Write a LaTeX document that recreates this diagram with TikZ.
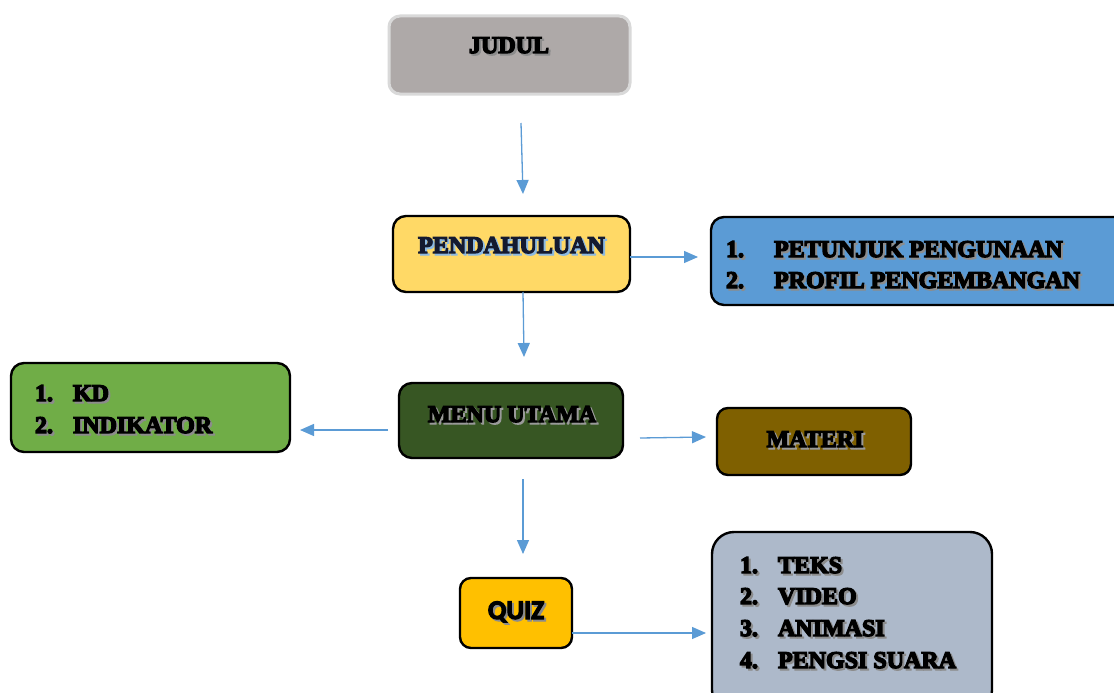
\documentclass[tikz,border=0pt]{standalone}
\usepackage{fontspec}
\usetikzlibrary{arrows.meta}
\newfontfamily\hv{Liberation Serif Bold}[FakeBold=5.5]
\newfontfamily\qf{Carlito Bold}[FakeBold=4]
\definecolor{cjudul}{HTML}{AEA9A8}
\definecolor{cjudulb}{HTML}{D9D9D9}
\definecolor{cpend}{HTML}{FFD966}
\definecolor{cblue}{HTML}{5B9BD5}
\definecolor{ckd}{HTML}{70AD47}
\definecolor{cmenu}{HTML}{375623}
\definecolor{cmat}{HTML}{7F6000}
\definecolor{cquiz}{HTML}{FFC000}
\definecolor{clist}{HTML}{ADB9CA}
\definecolor{carrow}{HTML}{5B9BD5}
\definecolor{cnavy}{HTML}{141A30}
\newcommand\shtx[3]{\leavevmode\rlap{\kern2pt\raisebox{-2pt}{\textcolor{#1}{#3}}}\textcolor{#2}{#3}}
\tikzset{
  box/.style={draw=black, line width=2.4pt, rounded corners=13pt, anchor=north west, inner sep=0pt, outer sep=0pt},
  txt/.style={inner sep=0pt, outer sep=0pt, font=\hv\fontsize{24}{24}\selectfont},
  conn/.style={draw=carrow, line width=1.3pt, -{Triangle[length=14pt,width=12pt]}},
}
\begin{document}
\begin{tikzpicture}[x=1pt,y=-1pt]
\clip (0,0) rectangle (1114,693);
\fill[white] (0,0) rectangle (1114,693);
% boxes
\node[box, draw=cjudulb, line width=3pt, rounded corners=11pt, fill=cjudul, minimum width=241pt, minimum height=78pt] (judul) at (389,16) {};
\node[box, fill=cpend, minimum width=237pt, minimum height=76pt] (pend) at (393,216) {};
\node[box, fill=cblue, minimum width=420pt, minimum height=88pt] (petunjuk) at (711,217) {};
\node[box, fill=ckd, minimum width=279pt, minimum height=89pt] (kd) at (11,363) {};
\node[box, fill=cmenu, minimum width=224pt, minimum height=75pt] (menu) at (399,383) {};
\node[box, fill=cmat, minimum width=194pt, minimum height=67pt, rounded corners=11pt] (materi) at (717,408) {};
\node[box, fill=cquiz, minimum width=112pt, minimum height=70pt, rounded corners=11pt] (quiz) at (460,578) {};
\node[box, fill=clist, minimum width=280pt, minimum height=180pt, rounded corners=22pt] (media) at (712,532) {};
% texts
\node[txt, anchor=base] (tjudul) at (509,53) {\shtx{black!45}{black}{JUDUL}};
\node[txt, anchor=base] (tpend) at (511.5,253) {\shtx{cblue!70}{cnavy}{PENDAHULUAN}};
\node[txt, anchor=base west] (tp1n) at (726,257) {\shtx{black!45}{black}{1.}};
\node[txt, anchor=base west] (tp1) at (774,257) {\shtx{black!45}{black}{PETUNJUK PENGUNAAN}};
\node[txt, anchor=base west] (tp2n) at (726,288) {\shtx{black!45}{black}{2.}};
\node[txt, anchor=base west] (tp2) at (774,288) {\shtx{black!45}{black}{PROFIL PENGEMBANGAN}};
\node[txt, anchor=base west] (tk1n) at (35,401) {\shtx{black!45}{black}{1.}};
\node[txt, anchor=base west] (tk1) at (73,401) {\shtx{black!45}{black}{KD}};
\node[txt, anchor=base west] (tk2n) at (35,433) {\shtx{black!45}{black}{2.}};
\node[txt, anchor=base west] (tk2) at (73,433) {\shtx{black!45}{black}{INDIKATOR}};
\node[txt, anchor=base] (tmenu) at (512,422) {\shtx{black!40}{black}{MENU UTAMA}};
\node[txt, anchor=base] (tmat) at (815,447) {\shtx{black!40}{black}{MATERI}};
\node[inner sep=0pt, anchor=base, font=\qf\fontsize{27}{27}\selectfont] (tquiz) at (516,619) {\shtx{black!45}{black}{QUIZ}};
\node[txt, anchor=base west] (tm1n) at (740,573) {\shtx{black!45}{black}{1.}};
\node[txt, anchor=base west] (tm1) at (778,573) {\shtx{black!45}{black}{TEKS}};
\node[txt, anchor=base west] (tm2n) at (740,604) {\shtx{black!45}{black}{2.}};
\node[txt, anchor=base west] (tm2) at (778,604) {\shtx{black!45}{black}{VIDEO}};
\node[txt, anchor=base west] (tm3n) at (740,636) {\shtx{black!45}{black}{3.}};
\node[txt, anchor=base west] (tm3) at (778,636) {\shtx{black!45}{black}{ANIMASI}};
\node[txt, anchor=base west] (tm4n) at (740,668) {\shtx{black!45}{black}{4.}};
\node[txt, anchor=base west] (tm4) at (778,668) {\shtx{black!45}{black}{PENGSI SUARA}};
% connector ends
\coordinate (a1s) at (521,123); \coordinate (a1e) at (523,194);
\coordinate (a2s) at (630,257); \coordinate (a2e) at (698,257);
\coordinate (a3s) at (523,292); \coordinate (a3e) at (524,357);
\coordinate (a4s) at (388,430); \coordinate (a4e) at (300,430);
\coordinate (a5s) at (640,438); \coordinate (a5e) at (706,437);
\coordinate (a6s) at (523,479); \coordinate (a6e) at (523,554);
\coordinate (a7s) at (572,633); \coordinate (a7e) at (706,633);
\draw[conn] (a1s) -- (a1e);
\draw[conn] (a2s) -- (a2e);
\draw[conn] (a3s) -- (a3e);
\draw[conn] (a4s) -- (a4e);
\draw[conn] (a5s) -- (a5e);
\draw[conn] (a6s) -- (a6e);
\draw[conn] (a7s) -- (a7e);
\end{tikzpicture}
\end{document}
